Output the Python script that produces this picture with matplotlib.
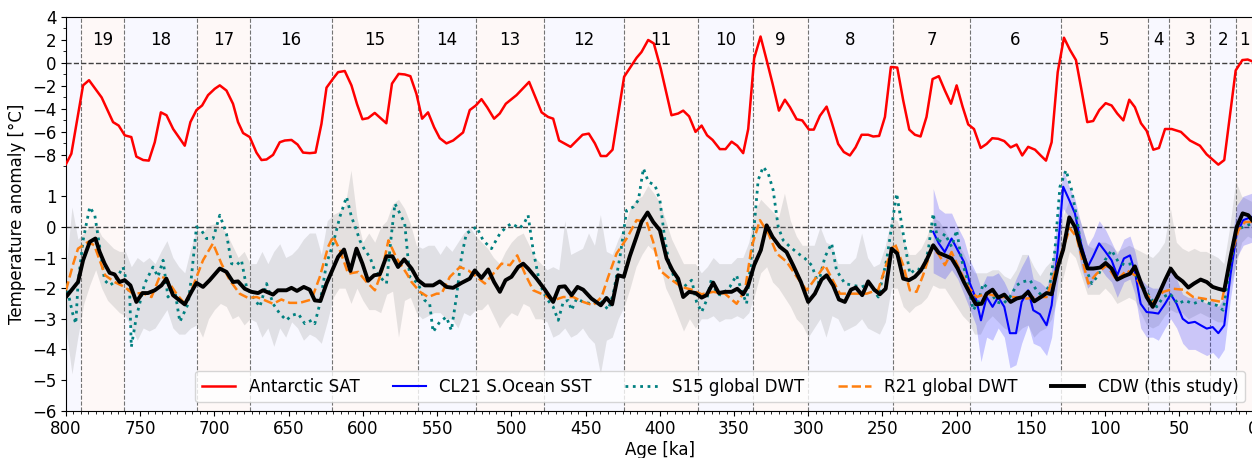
import matplotlib
matplotlib.use("Agg")
import matplotlib.pyplot as plt
import numpy as np

# MIS stage boundaries (ka) and numbers
mis_edges = [0, 12, 29, 57, 71, 130, 191, 243, 300, 337, 374, 424, 478, 524, 563, 621, 676, 712, 761, 790, 800]
mis_numbers = list(range(1, 21))

# Antarctic SAT (upper panel, deg C)
sat_age = [800, 796.4, 788.5, 784.5, 776, 768.3, 764.5, 760.4, 756, 752.6, 748, 744.2, 740.2, 736.1, 732.3,
           727.8, 720, 716.2, 712.1, 708.3, 704.3, 699.8, 696.4, 691.9, 687.5, 684.1, 680.7, 676.2, 671.7,
           668.3, 664.9, 660.5, 656, 652.6, 648.1, 644, 640.3, 635.8, 631.9, 627.9, 624.5, 620, 616.7, 612.2,
           607.7, 603.9, 600.3, 596.5, 592, 584.2, 580.4, 575.9, 571.8, 568, 563.9, 560.1, 556.1, 552, 548.2,
           543.7, 539.2, 532.5, 528, 523.9, 520.1, 516.3, 511.6, 507.8, 503.7, 496.5, 488, 479.6, 475.2,
           471.8, 467.8, 460.1, 452, 447.8, 443.7, 439.7, 435.9, 431.8, 424, 415.6, 412.3, 407.8, 404, 399.3,
           392.1, 387.6, 384.2, 380.2, 375.9, 371.8, 368.1, 364.4, 359.5, 355.7, 351.6, 347.8, 343.8, 340.4,
           336.4, 332.1, 328, 324, 319.7, 315.7, 312.3, 307.8, 304, 299.5, 296.2, 292.1, 287.6, 284.2, 279.8,
           276, 271.9, 268.1, 264, 259.6, 256.2, 252.2, 248.3, 244.3, 240, 236, 231.9, 228.1, 224.3, 220.3,
           216.2, 212, 207.9, 203.8, 200, 196, 192.2, 188.3, 183.8, 179.8, 176, 172, 167.9, 163.6, 159.6,
           155.8, 151.8, 147.2, 143.4, 139.8, 136, 131.9, 127.7, 123.7, 119.6, 115.8, 112, 108, 103.9, 99.6,
           95.6, 91.8, 87.7, 83.7, 79.9, 75.8, 72, 67.5, 63.7, 59.6, 55.1, 48.9, 42.8, 36.1, 31.6, 23.7, 19.7,
           12, 7.5, 3.9, 1]
sat_val = [-8.8, -7.9, -1.95, -1.5, -3.0, -5.15, -5.45, -6.3, -6.45, -8.15, -8.45, -8.5, -6.9, -4.3, -4.55,
           -5.75, -7.2, -5.15, -4.1, -3.7, -2.8, -2.25, -1.95, -2.4, -3.55, -5.15, -6.1, -6.45, -7.8,
           -8.45, -8.4, -8.0, -6.9, -6.75, -6.7, -7.1, -7.8, -7.85, -7.8, -5.3, -2.15, -1.35, -0.8, -0.7,
           -1.95, -3.6, -4.9, -4.8, -4.35, -5.25, -1.8, -0.95, -1.0, -1.15, -2.7, -4.85, -4.3, -5.6, -6.55,
           -7.0, -6.75, -6.05, -4.1, -3.7, -3.15, -3.85, -4.85, -4.4, -3.55, -2.8, -1.65, -4.3, -4.7,
           -4.85, -6.75, -7.3, -6.25, -6.15, -7.0, -8.1, -8.1, -7.55, -1.2, 0.45, 0.95, 2.0, 1.7, -0.5,
           -4.55, -4.4, -4.15, -4.65, -6.0, -5.45, -6.3, -6.7, -7.5, -7.5, -6.85, -7.2, -7.85, -5.75,
           0.4, 2.3, 0.25, -1.8, -4.15, -3.2, -3.85, -4.9, -5.0, -5.8, -5.8, -4.6, -3.8, -5.15, -7.05,
           -7.75, -8.05, -7.35, -6.25, -6.25, -6.4, -6.35, -4.7, -0.35, -0.4, -3.25, -5.8, -6.25, -6.4, -4.7,
           -1.4, -1.15, -2.4, -3.55, -1.95, -3.8, -5.35, -5.75, -7.4, -7.05, -6.55, -6.6, -6.8, -7.35, -7.1,
           -8.05, -7.3, -7.55, -8.05, -8.5, -6.9, -0.8, 2.2, 1.15, 0.25, -2.4, -5.15, -5.05, -4.1, -3.5,
           -3.7, -4.4, -5.0, -3.2, -3.85, -5.25, -5.9, -7.55, -7.4, -5.75, -5.75, -6.0, -6.75, -7.2, -7.95, -8.85, -8.45,
           -0.65, 0.25, 0.3, 0.15]

# CDW (this study)
cdw_age = [800, 791.9, 788.5, 784, 780.2, 777.3, 774, 770.6, 767.3, 763.9, 760.5, 756.6, 752.6, 748.5, 744.8,
           740.2, 735.7, 732.4, 727.9, 720, 715.5, 712.1, 707.7, 703.2, 696.4, 691.9, 687.5, 684.1, 679.6,
           675.1, 670.6, 667.3, 660.5, 657.2, 651.5, 648.1, 644.4, 639.8, 635.8, 632.4, 628.6, 624.5, 616.7,
           612.7, 608.4, 604.3, 600.3, 596.5, 592.4, 588.6, 584.1, 580.1, 576.3, 572.2, 567.2, 562.8, 558.3,
           552.7, 548.2, 543.7, 539.2, 533.6, 528, 524.6, 520.1, 515.6, 511.6, 507.7, 503.9, 499.9, 495.4,
           492, 488.7, 483, 477.4, 471.8, 467.8, 463.9, 459.4, 455.4, 451.6, 446, 439.7, 435.9, 432.1, 428.1,
           424.2, 420.2, 415.7, 412.3, 408.2, 404.4, 399.9, 395.4, 391.4, 387.6, 384.2, 380.2, 375.9, 371.8,
           368.5, 364, 360.2, 356.1, 351.6, 347.8, 343.8, 340.4, 336.4, 331.9, 328, 324, 319.1, 314.6, 310.2,
           304.9, 300, 295.5, 291, 287.6, 283.2, 279.3, 275.3, 271.2, 267.9, 263.6, 259.6, 255.5, 251.7,
           247.8, 243.8, 240, 236, 232.1, 228.1, 224.1, 220.3, 215.8, 212, 208, 203.4, 199.3, 195.1, 191, 187,
           183.2, 179.8, 175.8, 172, 167.9, 163.6, 159.6, 155.5, 151.8, 147.7, 143.2, 139.4, 136, 131.9, 128.2,
           124.1, 120.3, 116.2, 111.7, 108, 103.4, 99.6, 95.6, 91.8, 87.3, 83.2, 79.9, 76, 72, 67.9, 64.1,
           59.6, 55.8, 51.8, 47.7, 43.9, 40.1, 35.6, 31.5, 27.5, 23.7, 19.7, 15.4, 11.3, 7.3, 3.5, 1]
cdw_val = [-2.29, -1.8, -1.09, -0.49, -0.38, -0.82, -1.2, -1.5, -1.55, -1.8, -1.74, -1.91, -2.45, -2.16, -2.16,
           -2.07, -1.91, -1.69, -2.23, -2.53, -2.12, -1.83, -1.96, -1.74, -1.36, -1.47, -1.8, -1.78, -2.02,
           -2.12, -2.16, -2.07, -2.21, -2.07, -2.07, -1.99, -2.09, -1.96, -2.05, -2.4, -2.42, -1.85, -0.98,
           -0.74, -1.44, -0.71, -1.2, -1.76, -1.58, -1.55, -0.96, -0.96, -1.31, -1.06, -1.36, -1.74, -1.91,
           -1.91, -1.78, -1.96, -1.99, -1.83, -1.69, -1.42, -1.67, -1.39, -1.8, -2.12, -1.74, -1.63, -1.31,
           -1.2, -1.36, -1.69, -2.05, -2.45, -1.96, -1.94, -2.23, -1.96, -2.05, -2.34, -2.56, -2.32, -2.53, -1.58,
           -1.63, -0.96, -0.33, 0.16, 0.47, 0.16, -0.11, -1.03, -1.42, -1.69, -2.29, -2.12, -2.16, -2.31,
           -2.23, -1.82, -2.16, -2.12, -2.12, -2.02, -2.2, -1.91, -1.25, -0.76, 0.05, -0.33, -0.65, -0.82, -1.25,
           -1.8, -2.45, -2.18, -1.72, -1.58, -1.91, -2.37, -2.45, -2.05, -1.98, -2.23, -1.78, -2.05, -2.2,
           -2.02, -0.71, -0.87, -1.69, -1.74, -1.63, -1.42, -1.09, -0.6, -0.85, -0.93, -1.03, -1.36, -1.8, -2.18, -2.53,
           -2.51, -2.18, -2.05, -2.31, -2.21, -2.45, -2.34, -2.29, -2.12, -2.43, -2.29, -2.16, -2.2, -1.31, -0.74,
           0.31, 0.0, -0.71, -1.36, -1.36, -1.33, -1.18, -1.36, -1.72, -1.61, -1.53, -1.29, -1.8, -2.29, -2.61, -2.23,
           -1.74, -1.36, -1.63, -1.78, -1.98, -1.85, -1.72, -1.8, -1.96, -2.02, -2.07, -0.96, 0.0, 0.44, 0.38, 0.22]

# CDW uncertainty envelope
band_age = [800, 796, 792, 788, 784, 780, 776, 772, 768, 764, 760, 756, 752, 748, 744, 740, 736, 732, 728, 724,
            720, 716, 712, 708, 704, 700, 696, 692, 688, 684, 680, 676, 672, 668, 664, 660, 656, 652, 648, 644,
            640, 636, 632, 628, 624, 620, 616, 612, 608, 604, 600, 596, 592, 588, 584, 580, 576, 572, 568, 564,
            560, 556, 552, 548, 544, 540, 536, 532, 528, 524, 520, 516, 512, 508, 504, 500, 496, 492, 488, 484,
            480, 476, 472, 468, 464, 460, 456, 452, 448, 444, 440, 436, 432, 428, 424, 420, 416, 412, 408, 404,
            400, 396, 392, 388, 384, 380, 376, 372, 368, 364, 360, 356, 352, 348, 344, 340, 336, 332, 328, 324,
            320, 316, 312, 308, 304, 300, 296, 292, 288, 284, 280, 276, 272, 268, 264, 260, 256, 252, 248, 244,
            240, 236, 232, 228, 224, 220, 216, 212, 208, 204, 200, 196, 192, 188, 184, 180, 176, 172, 168, 164,
            160, 156, 152, 148, 144, 140, 136, 132, 128, 124, 120, 116, 112, 108, 104, 100, 96, 92, 88, 84,
            80, 76, 72, 68, 64, 60, 56, 52, 48, 44, 40, 36, 32, 28, 24, 20, 16, 12, 8, 4, 0]
band_hi = [-1.4, 0.65, -0.4, -0.2, 0.0, 0.1, -0.3, -0.5, -0.7, -0.8, -0.8, -1.3, -1.0, -1.15, -1.0, -1.2, -0.8, -0.45, -1.0, -1.3,
           -1.5, -0.7, -0.1, -0.2, 0.05, 0.1, 0.0, -0.2, -0.6, -1.0, -0.8, -1.2, -1.2, -0.8, -1.2, -0.8, -0.55, -1.0, -0.9, -0.7,
           -0.4, -0.2, -0.2, -0.9, 0.2, 0.4, 0.5, 0.7, 1.85, 0.3, -0.5, -0.2, -0.5, 0.0, 0.2, 0.75, 0.9, 0.6, 0.1, -0.6,
           -0.7, -0.6, -0.6, -0.9, -0.6, -0.8, -0.5, -0.2, 0.0, -0.3, -0.5, -0.7, -1.0, -1.2, -0.8, -0.5, -0.3, -0.2, -0.6, -1.0,
           -1.2, -1.4, -1.3, -1.4, 0.2, -0.9, -0.8, -0.7, -0.2, -0.6, 0.4, -0.8, -0.9, -0.4, 0.0, 0.6, 0.9, 1.0, 1.35, 1.1,
           0.8, 0.2, -0.4, -0.8, -1.2, -1.2, -1.2, -1.5, -1.3, -1.0, -1.2, -1.2, -1.2, -1.0, -1.0, -0.5, 0.5, 0.9, 0.7, 0.5,
           0.3, 1.1, 0.2, -0.3, -0.6, -0.6, -0.6, 0.0, -0.5, -0.6, -1.2, -1.2, -1.2, -1.0, -0.2, -1.0, -1.3, -1.2, -0.6, 0.3,
           0.2, -0.4, -0.9, -0.9, -0.7, -0.3, 0.3, 0.2, -0.1, -0.5, -0.5, -0.8, -1.2, -1.5, -1.5, -1.5, -1.4, -1.4, -1.6, -1.7,
           -1.4, -0.9, -0.9, -1.3, -1.6, -1.3, -1.1, -0.2, 0.4, 0.9, 0.6, 0.1, -0.6, -0.7, -0.5, -0.5, -0.6, -0.8, -0.7, -0.6,
           -0.7, -0.8, -0.9, -1.0, -0.8, -0.5, 0.6, -0.5, -0.7, -0.8, -0.7, -0.8, -0.8, -0.9, -1.0, -1.2, 0.0, 1.5, 1.0, 0.9, 0.8]
band_lo = [-3.3, -4.8, -3.6, -2.5, -1.9, -1.4, -2.0, -2.4, -2.6, -2.8, -2.9, -3.3, -3.7, -3.3, -3.4, -3.3, -3.0, -2.7, -3.3, -3.5,
           -3.5, -3.3, -3.2, -3.6, -3.0, -2.7, -2.5, -2.6, -3.0, -2.9, -3.2, -3.0, -3.1, -3.6, -3.3, -3.9, -3.3, -3.6, -3.1, -3.3,
           -3.7, -3.5, -3.6, -3.8, -3.1, -2.3, -2.0, -2.0, -2.5, -2.0, -2.4, -2.7, -2.7, -2.8, -2.2, -2.1, -3.6, -2.4, -2.3, -2.8,
           -3.0, -2.9, -2.8, -2.8, -3.0, -3.0, -3.3, -2.8, -2.9, -2.7, -2.7, -2.5, -2.9, -3.3, -3.0, -2.8, -2.9, -2.5, -2.6, -3.0,
           -3.0, -3.1, -3.6, -3.5, -3.3, -3.6, -3.5, -3.3, -3.6, -3.8, -4.8, -3.7, -3.6, -3.0, -2.6, -2.0, -1.3, -0.9, -0.6, -0.8,
           -1.2, -2.0, -2.4, -2.9, -3.4, -3.0, -3.3, -3.0, -3.0, -2.9, -3.1, -3.0, -3.0, -2.9, -3.0, -2.8, -2.2, -1.5, -1.3, -1.8,
           -2.0, -2.3, -2.6, -3.0, -3.2, -3.6, -3.3, -3.0, -3.6, -2.9, -3.0, -3.4, -3.3, -3.2, -3.0, -3.3, -3.4, -3.5, -3.1, -2.0,
           -2.0, -2.6, -2.8, -2.6, -2.5, -2.3, -1.9, -2.0, -2.0, -2.3, -2.6, -2.9, -3.1, -3.5, -3.5, -3.1, -2.9, -3.1, -3.3, -3.4,
           -3.5, -3.3, -3.2, -3.6, -3.4, -3.3, -3.0, -2.3, -1.6, -0.8, -1.0, -1.6, -2.2, -2.2, -2.2, -2.0, -2.2, -2.5, -2.4, -2.3,
           -2.4, -2.8, -3.2, -3.3, -3.2, -2.9, -2.7, -2.8, -2.8, -3.0, -2.9, -2.8, -2.9, -3.0, -3.1, -3.1, -2.0, -1.3, -0.5, -0.3, -0.4]

# R21 global DWT
r21_age = [800, 795.1, 791.9, 785.1, 781, 777.3, 773.6, 767.3, 760.5, 755, 748.5, 742.4, 736.8, 732.4, 725.6,
           720, 715.5, 707.7, 701, 695.3, 689.7, 683, 677.3, 671.6, 667.3, 660.5, 654.9, 649.3, 642.5, 634.6,
           629, 623.4, 620, 615.5, 609.9, 603.1, 597.5, 591.9, 587.3, 582.8, 577.2, 570.4, 567.2, 561.6, 556,
           550.3, 547, 541.4, 534.6, 529, 523.4, 517.8, 512.2, 506.6, 500.9, 496, 490.8, 485.2, 478.5, 471.8,
           465, 458.3, 451.6, 444.8, 439.2, 434.7, 429.1, 422.3, 415.6, 408.8, 404.4, 399.9, 393.2, 385.3,
           378.5, 371.8, 364, 356.1, 348.2, 342.6, 338.1, 332.5, 326.8, 321.2, 314.5, 307.7, 301, 294.3, 288.7,
           284, 278.6, 269.7, 260.6, 252.8, 247.2, 241.6, 236, 231.5, 227, 222.6, 216.8, 212.4, 207.9, 203.4,
           197.8, 192.2, 186.5, 179.8, 170.8, 161.9, 152.8, 145, 139.4, 134.9, 130.4, 123.7, 119.2, 114.7,
           111.3, 105.7, 98.9, 92.2, 85.4, 79.9, 74.3, 67.5, 60.8, 54, 47.3, 40.6, 33.8, 27.1, 21.4, 15.8,
           10.2, 5.7, 1]
r21_val = [-2.07, -1.2, -0.71, -0.49, -0.6, -1.09, -1.58, -1.8, -1.96, -2.18, -2.16, -2.29, -1.61, -1.69, -2.18,
           -2.51, -2.07, -1.09, -0.54, -1.2, -1.74, -2.18, -2.32, -2.29, -2.37, -2.51, -2.37, -2.48, -2.48, -2.37,
           -1.63, -0.65, -0.31, -0.76, -1.53, -1.47, -1.8, -2.07, -1.47, -0.44, -1.03, -1.53, -1.8, -2.12, -2.29,
           -2.18, -2.18, -1.63, -1.31, -1.42, -1.63, -1.85, -1.53, -1.2, -1.25, -0.93, -1.53, -2.07, -2.21, -2.4,
           -2.29, -2.29, -2.45, -2.56, -2.29, -1.63, -0.87, -0.38, 0.22, 0.16, -0.49, -1.42, -1.69, -1.96,
           -2.05, -2.2, -2.12, -2.18, -2.51, -2.07, -0.65, 0.22, -0.22, -0.87, -1.14, -1.63, -2.07, -1.63, -1.25,
           -1.69, -2.18, -2.18, -2.18, -2.05, -1.2, -0.54, -1.25, -2.07, -2.12, -1.58, -0.71, -0.87, -1.25, -0.82,
           -1.42, -1.96, -2.29, -2.18, -2.29, -2.29, -2.34, -2.29, -2.29, -1.63, -0.98, -0.05, -0.33, -1.2,
           -1.85, -1.53, -1.25, -1.74, -1.42, -1.58, -2.07, -2.45, -2.12, -2.02, -2.05, -2.29, -2.34, -2.4, -2.45, -1.09,
           -0.11, 0.16, 0.16]

# S15 global DWT
s15_age = [800, 795.5, 793.4, 791.9, 788.5, 784, 780.6, 777.3, 774, 770.6, 767.3, 761.6, 757.1, 756, 752.6,
           750.4, 747, 741.4, 738, 734.6, 731.3, 726.7, 723.3, 717.7, 715.5, 712.1, 708.8, 705.4, 700.9, 696.4,
           691.9, 688.5, 685.2, 681.8, 678.4, 673.9, 669.4, 664.9, 660.5, 656, 651.5, 648.1, 643.6, 639.1,
           634.6, 632.4, 629, 624.5, 620, 615.5, 611, 607.7, 604.3, 602.1, 598.7, 595.3, 592, 588.6, 584.1,
           580.7, 578.4, 575.1, 571.8, 568.4, 562.8, 558.3, 555, 552.7, 548.2, 543.7, 540.4, 537, 533.6, 530.3,
           523.4, 519, 513.4, 507.7, 503.3, 499.9, 494.3, 490.9, 488.7, 485.3, 480.8, 476.3, 471.8, 468.4, 465,
           461.7, 459.4, 456, 451.6, 446, 440.4, 434.7, 431.3, 426.8, 422.3, 417.8, 414.4, 411, 407.7, 403.2,
           399.9, 396.5, 393.2, 389.8, 385.3, 378.5, 375.2, 371.8, 368.5, 365.1, 361.7, 358.4, 352.8, 348.3,
           344.9, 341.5, 337, 333.7, 330.3, 326.9, 323.6, 320.2, 316.8, 312.3, 306.7, 302.2, 297.7, 293.2,
           288.7, 284.2, 280.9, 275.3, 269.7, 264, 258.4, 252.8, 247.2, 240.4, 236, 231.5, 227, 222.6, 219.1,
           215.8, 212.4, 207.9, 203.4, 200, 196.6, 193.3, 188.8, 185.4, 182.1, 177.6, 173.1, 168.6, 164.1,
           159.6, 156.2, 150.6, 146.1, 141.6, 137.1, 133.8, 130.4, 126.3, 122.5, 119.2, 115.8, 112.4, 109,
           104.6, 100.1, 95.6, 91.1, 86.6, 82.1, 78.7, 74.3, 69.7, 65.2, 60.8, 56.3, 50.7, 46.2, 40.6, 34.9,
           29.3, 24.8, 20.4, 15.8, 11.3, 6.9, 1]
s15_val = [-1.85, -2.83, -3.16, -1.85, -0.44, 0.65, 0.38, -0.65, -1.74, -1.91, -1.8, -1.31, -2.18, -3.92, -2.94,
           -2.51, -1.85, -1.31, -1.63, -1.09, -2.29, -2.07, -3.1, -2.51, -1.63, 0.0, -0.11, -0.38, -0.38, 0.38,
           -0.22, -1.2, -1.25, -1.09, -1.96, -2.29, -2.61, -1.85, -2.51, -2.83, -3.05, -2.89, -2.83, -3.16,
           -3.05, -3.16, -2.51, -1.2, -0.54, 0.33, 0.98, 0.33, -0.11, -0.44, -0.76, -0.98, -1.42, -1.63, -1.85,
           -0.22, 0.76, 0.44, 0.1, -1.63, -1.85, -2.4, -2.51, -3.43, -3.1, -2.94, -3.38, -2.29, -0.98, -0.22,
           0.0, -0.44, -0.71, -0.22, 0.0, 0.11, -0.05, 0.16, 0.38, -0.76, -1.85, -2.34, -2.61, -3.05, -2.45,
           -2.4, -2.72, -2.34, -2.45, -2.51, -2.4, -2.7, -2.18, -0.98, 0.54, 0.65, 0.87, 1.91, 1.47, 1.36,
           0.87, -0.44, -1.31, -1.69, -2.02, -1.74, -2.45, -2.78, -2.4, -1.69, -2.18, -2.23, -1.96, -1.58,
           -2.07, -2.51, -0.33, 1.53, 1.96, 1.74, 1.2, 0.0, -0.44, -0.65, -0.87, -1.03, -1.25, -1.85,
           -0.98, -0.54, -1.42, -1.85, -1.91, -1.96, -1.85, -2.29, -1.09, 1.09, -0.22, -1.53, -1.36, -1.42, -0.76,
           0.44, -0.54, -0.22, -0.65, -0.11, -1.09, -1.63, -2.72, -2.45, -1.85, -2.07, -2.45, -2.51, -2.29,
           -1.91, -1.8, -1.74, -2.07, -2.29, -1.85, -0.76, 1.31, 1.85, 1.2, 0.33, -0.76, -1.42, -1.85,
           -1.58, -1.09, -0.76, -1.14, -1.25, -1.2, -1.63, -1.96, -2.29, -2.61, -2.29, -2.18, -2.51, -2.4, -2.51, -2.4,
           -2.51, -2.56, -2.72, -1.31, -0.11, 0.0, 0.11]

# CL21 Southern Ocean SST with envelope
cl21_age = [215.8, 212, 208, 203.4, 199.3, 195.1, 191, 187, 183.6, 179.8, 175.8, 172, 167.9, 164.1, 160, 156.2,
            151.8, 148.4, 143.9, 139.4, 136, 131.9, 128.2, 124.1, 120.3, 116.2, 111.7, 108, 104, 99.6, 95.6,
            91.8, 87.3, 83.2, 79.9, 76, 72, 67.9, 64.1, 59.6, 55.8, 51.8, 47.7, 43.9, 39.5, 35.6, 31.5, 27.5,
            23.7, 19.7, 15.4, 11.3, 6.9, 1]
cl21_val = [-0.16, -0.54, -0.82, -0.38, -0.76, -1.14, -1.85, -2.34, -3.05, -2.29, -2.61, -2.29, -2.61, -3.47, -3.47, -2.45,
            -2.07, -2.72, -2.85, -3.21, -2.56, -0.76, 1.31, 0.87, 0.44, -0.54, -1.31, -0.96, -0.54, -0.82, -1.09,
            -1.58, -1.03, -0.93, -1.47, -2.51, -2.78, -2.8, -2.83, -2.51, -2.2, -2.51, -3.0, -3.14, -3.1, -3.21, -3.32, -3.27,
            -3.47, -3.21, -1.53, -0.22, 0.22, 0.33]
cl21_hi = [1.25, 0.6, 0.45, 0.45, 0.0, -0.4, -1.1, -1.5, -2.0, -1.6, -1.6, -1.5, -1.8, -2.2, -1.7, -1.3,
           -0.9, -1.7, -1.8, -2.0, -1.4, 0.4, 1.85, 1.3, 0.9, 0.1, -0.6, -0.3, 0.2, -0.1, -0.5,
           -0.9, -0.4, -0.3, -0.8, -1.7, -1.9, -2.0, -2.0, -1.6, -1.3, -1.7, -2.2, -2.3, -2.3, -2.4, -2.5, -2.4,
           -2.6, -2.3, -0.7, 0.7, 1.0, 1.1]
cl21_lo = [-1.5, -1.6, -1.7, -1.4, -1.7, -2.2, -2.7, -3.2, -4.4, -3.6, -3.7, -3.3, -3.6, -4.6, -4.5, -3.8,
           -3.2, -3.8, -3.9, -4.2, -3.6, -1.8, 0.6, 0.3, -0.2, -1.3, -2.0, -1.8, -1.3, -1.6, -1.8,
           -2.3, -1.8, -1.7, -2.2, -3.3, -3.6, -3.6, -3.7, -3.3, -3.0, -3.3, -3.8, -4.0, -4.0, -4.1, -4.2, -4.1,
           -4.3, -4.0, -2.3, -1.0, -0.6, -0.5]

# SAT is drawn on the same axes, squeezed and shifted above the ocean curves
SAT_OFF = 5.35
SAT_SCALE = 0.375


def sat_y(v):
    return SAT_OFF + SAT_SCALE * np.asarray(v)


fig = plt.figure(figsize=(12.52, 4.58), dpi=100)
ax = fig.add_axes([66 / 1252, 47.3 / 458, 1187.5 / 1252, 393.7 / 458])

# MIS shading, boundaries and numbers
for i, num in enumerate(mis_numbers):
    lo, hi = mis_edges[i], mis_edges[i + 1]
    col = '#fef8f7' if num % 2 else '#f8f8ff'
    ax.axvspan(lo, hi, color=col, lw=0, zorder=0)
    if num < 20:
        ax.text((lo + hi) / 2, sat_y(2.0), str(num), ha='center', va='center', fontsize=12)
for edge in mis_edges[1:-1]:
    ax.axvline(edge, color='0.45', ls='--', lw=0.8, zorder=1)

ax.axhline(0, color='0.25', ls='--', lw=1, zorder=1)
ax.axhline(SAT_OFF, color='0.25', ls='--', lw=1, zorder=1)

ax.fill_between(band_age, band_lo, band_hi, color='0.55', alpha=0.22, lw=0, zorder=2)
ax.fill_between(cl21_age, cl21_lo, cl21_hi, color='blue', alpha=0.2, lw=0, zorder=2)

ax.plot(sat_age, sat_y(sat_val), color='red', lw=1.8, label='Antarctic SAT', zorder=3)
ax.plot(cl21_age, cl21_val, color='blue', lw=1.5, label='CL21 S.Ocean SST', zorder=3)
ax.plot(s15_age, s15_val, color='teal', ls=':', lw=2, label='S15 global DWT', zorder=3)
ax.plot(r21_age, r21_val, color='tab:orange', ls='--', lw=1.8, label='R21 global DWT', zorder=3)
ax.plot(cdw_age, cdw_val, color='black', lw=2.8, label='CDW (this study)', zorder=4)

ax.set_xlim(800, 0)
ax.set_ylim(-6, SAT_OFF + SAT_SCALE * 4)
ax.set_xticks(np.arange(800, -1, -50))
ax.set_xticks(np.arange(800, -1, -5), minor=True)

sat_ticks = [4, 2, 0, -2, -4, -6, -8]
low_ticks = [1, 0, -1, -2, -3, -4, -5, -6]
ax.set_yticks(list(sat_y(sat_ticks)) + low_ticks)
ax.set_yticklabels([f'{t}'.replace('-', '\u2212') for t in sat_ticks] +
                   [f'{t}'.replace('-', '\u2212') for t in low_ticks])
ax.set_yticks(sat_y([3, 1, -1, -3, -5, -7, -9]), minor=True)
ax.tick_params(labelsize=12)

ax.set_xlabel('Age [ka]', fontsize=12, labelpad=2)
ax.set_ylabel('Temperature anomaly [°C]', fontsize=12)

ax.legend(loc='lower right', ncol=5, fontsize=12, framealpha=0.8)

fig.savefig('out.png', dpi=100)
